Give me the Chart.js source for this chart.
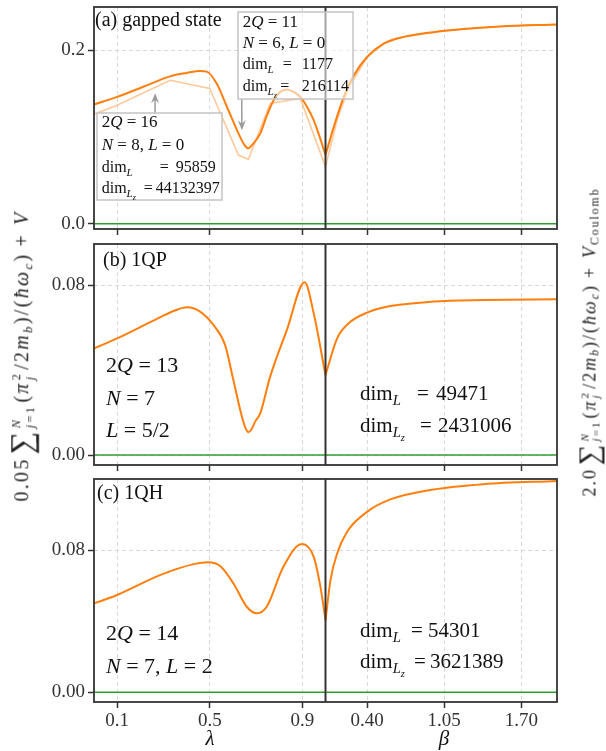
<!DOCTYPE html>
<html>
<head>
<meta charset="utf-8">
<script src="https://cdn.jsdelivr.net/npm/chart.js@4.4.1/dist/chart.umd.min.js"></script>
<style>
  html, body { margin: 0; padding: 0; background: #fff; }
  #wrap { position: relative; width: 606px; height: 751px; overflow: hidden; }
  canvas { position: absolute; left: 0; }
  .ylab {
    position: absolute;
    font-family: 'Liberation Serif', serif;
    color: #222;
    white-space: nowrap;
    transform: translate(-50%, -50%) rotate(-90deg);
    line-height: 1;
  }
  .lim { display: inline-flex; flex-direction: column; font-size: 0.62em; line-height: 1.05; vertical-align: 0.62em; margin: 0 2px 0 1px; }
  .big { font-size: 1.6em; line-height: 0.8; vertical-align: -0.12em; margin-left: 3px; }
  .op { margin: 0 8px 0 6px; }
  .ylab sub { font-size: 0.65em; vertical-align: -0.3em; line-height: 0; }
</style>
</head>
<body>
<div id="wrap">
  <canvas id="panelA" width="606" height="240" style="top:0px"></canvas>
  <canvas id="panelB" width="606" height="232" style="top:240px"></canvas>
  <canvas id="panelC" width="606" height="279" style="top:472px"></canvas>
  <div class="ylab" id="ylabLeft" style="left:23px; top:356px; font-size:20px; letter-spacing:2.3px">0.05<span class="big">∑</span><span class="lim"><i>N</i><span><i>j</i>=1</span></span>(<i>π</i><span class="lim"><span>2</span><i>j</i></span>/2<i>m</i><sub><i>b</i></sub>)/(<i>ħω</i><sub><i>c</i></sub>)<span class="op">+</span><i>V</i></div>
  <div class="ylab" id="ylabRight" style="left:590px; top:342px; font-size:18px; letter-spacing:2px">2.0<span class="big">∑</span><span class="lim"><i>N</i><span><i>j</i>=1</span></span>(<i>π</i><span class="lim"><span>2</span><i>j</i></span>/2<i>m</i><sub><i>b</i></sub>)/(<i>ħω</i><sub><i>c</i></sub>)<span class="op">+</span><i>V</i><sub>Coulomb</sub></div>
</div>
<script>
// x axis: left half is lambda (0..1), right half is beta (0.05..2.0)
const betaMin = 0.05;
const betaMax = 2.0;
const xTickLambda = [0.1, 0.5, 0.9];
const xTickBeta = [0.40, 1.05, 1.70];
const xTickLabels = ['0.1', '0.5', '0.9', '0.40', '1.05', '1.70'];

// (a) gapped state
const lambdaA = [0, 0.1, 0.213, 0.329, 0.401, 0.458, 0.487, 0.53, 0.574, 0.631, 0.65, 0.665, 0.685, 0.718, 0.747, 0.776, 0.804, 0.833, 0.862, 0.891, 0.92, 0.949, 0.977, 1.0];
const energyA = [0.1376, 0.1463, 0.158, 0.170, 0.174, 0.1762, 0.1755, 0.1617, 0.135, 0.1003, 0.091, 0.087, 0.0915, 0.104, 0.125, 0.1425, 0.152, 0.1548, 0.152, 0.1463, 0.135, 0.1195, 0.0985, 0.0793];
const betaA = [0.05, 0.12, 0.204, 0.288, 0.40, 0.54, 0.68, 0.96, 1.24, 1.52, 2.0];
const energyBetaA = [0.0793, 0.1118, 0.1463, 0.171, 0.1923, 0.2077, 0.2146, 0.221, 0.2249, 0.2276, 0.2299];
// smaller system (2Q = 16), faded
const lambdaA16 = [0, 0.1, 0.329, 0.5, 0.624, 0.667, 0.761, 0.891, 1.0];
const energyA16 = [0.1264, 0.1368, 0.1655, 0.156, 0.0793, 0.0743, 0.1387, 0.1445, 0.0659];
const betaA16 = [0.05, 0.15, 0.25, 0.40, 0.54, 0.68, 0.96, 1.24, 1.52, 2.0];
const energyBetaA16 = [0.0659, 0.121, 0.158, 0.1923, 0.2077, 0.2146, 0.221, 0.2249, 0.2276, 0.2299];

// (b) 1QP
const lambdaB = [0, 0.1, 0.2, 0.285, 0.35, 0.401, 0.458, 0.516, 0.566, 0.602, 0.639, 0.655, 0.667, 0.68, 0.696, 0.718, 0.761, 0.833, 0.91, 0.949, 1.0];
const energyB = [0.0502, 0.0549, 0.0602, 0.0648, 0.068, 0.0695, 0.0675, 0.0612, 0.0518, 0.0353, 0.018, 0.0125, 0.0107, 0.012, 0.0157, 0.0196, 0.0369, 0.0588, 0.0813, 0.0667, 0.0376];
const betaB = [0.05, 0.148, 0.245, 0.40, 0.596, 0.96, 1.38, 2.0];
const energyBetaB = [0.0376, 0.0549, 0.062, 0.067, 0.0701, 0.0722, 0.0729, 0.0733];

// (c) 1QH
const lambdaC = [0, 0.1, 0.285, 0.43, 0.494, 0.545, 0.602, 0.66, 0.703, 0.746, 0.818, 0.898, 0.949, 0.978, 1.0];
const energyC = [0.05, 0.0547, 0.0659, 0.0721, 0.0732, 0.071, 0.0613, 0.0481, 0.0444, 0.0481, 0.0706, 0.0834, 0.0762, 0.0594, 0.0406];
const betaC = [0.05, 0.092, 0.148, 0.232, 0.40, 0.596, 0.96, 1.38, 2.0];
const energyBetaC = [0.0406, 0.0631, 0.0781, 0.0903, 0.1015, 0.1085, 0.1141, 0.1171, 0.1189];

const colors = {
  orange: '#ff7f0e',
  faded: 'rgba(255, 127, 14, 0.42)',
  green: '#2ca02c',
  frame: '#333333',
  grid: '#d9d9d9',
  text: '#111111'
};
const serif = "'Liberation Serif', serif";

// map lambda / beta onto the shared x coordinate
function fromLambda(l) { return l; }
function fromBeta(b) { return 1 + (b - betaMin) / (betaMax - betaMin); }

function toPoints(xs, ys, mapX) {
  return xs.map((v, i) => ({ x: mapX(v), y: ys[i] }));
}

const xTickPos = xTickLambda.map(fromLambda).concat(xTickBeta.map(fromBeta));

function curve(xs, ys, mapX, color, width, smooth) {
  return {
    data: toPoints(xs, ys, mapX),
    borderColor: color,
    borderWidth: width,
    pointRadius: 0,
    fill: false,
    cubicInterpolationMode: smooth ? 'monotone' : 'default',
    tension: 0
  };
}

function zeroLine() {
  return {
    data: [{ x: 0, y: 0 }, { x: 2, y: 0 }],
    borderColor: colors.green,
    borderWidth: 1.6,
    pointRadius: 0
  };
}

// rich text: parts are [text, style]; style 'i' italic, '_' subscript, '__' second level, 'tab' jump
function drawMath(ctx, x, y, parts, size) {
  const x0 = x;
  ctx.fillStyle = colors.text;
  ctx.textAlign = 'left';
  ctx.textBaseline = 'alphabetic';
  parts.forEach(p => {
    const txt = p[0], st = p[1] || '';
    if (st === 'tab') { x = x0 + txt; return; }
    let fs = size, dy = 0;
    if (st.includes('__')) { fs = size * 0.5; dy = size * 0.42; }
    else if (st.includes('_')) { fs = size * 0.7; dy = size * 0.22; }
    ctx.font = (st.includes('i') ? 'italic ' : '') + fs + 'px ' + serif;
    ctx.fillText(txt, x, y + dy);
    x += ctx.measureText(txt).width;
  });
}

function dimLines(ctx, x, y1, y2, valL, valLz, tabs, size) {
  drawMath(ctx, x, y1, [['dim'], ['L', 'i_'], [tabs[0], 'tab'], ['='], [tabs[1], 'tab'], [valL]], size);
  drawMath(ctx, x, y2, [['dim'], ['L', 'i_'], ['z', 'i__'], [tabs[2], 'tab'], ['='], [tabs[3], 'tab'], [valLz]], size);
}

function drawArrow(ctx, x1, y1, x2, y2) {
  const ang = Math.atan2(y2 - y1, x2 - x1);
  const len = 10, half = 4;
  ctx.save();
  ctx.strokeStyle = '#9a9a9a';
  ctx.fillStyle = '#9a9a9a';
  ctx.lineWidth = 1.5;
  ctx.beginPath();
  ctx.moveTo(x1, y1);
  ctx.lineTo(x2 - Math.cos(ang) * len * 0.6, y2 - Math.sin(ang) * len * 0.6);
  ctx.stroke();
  ctx.translate(x2, y2);
  ctx.rotate(ang);
  ctx.beginPath();
  ctx.moveTo(0, 0);
  ctx.lineTo(-len, -half);
  ctx.lineTo(-len * 0.65, 0);
  ctx.lineTo(-len, half);
  ctx.closePath();
  ctx.fill();
  ctx.restore();
}

function drawBox(ctx, x, y, w, h) {
  ctx.save();
  ctx.fillStyle = 'rgba(255, 255, 255, 0.55)';
  ctx.fillRect(x, y, w, h);
  ctx.strokeStyle = '#c4c4c4';
  ctx.lineWidth = 1.5;
  ctx.strokeRect(x, y, w, h);
  ctx.restore();
}

// frame, black divider and annotations (one plugin per panel)
function panelPlugin(draw) {
  return {
    id: 'panelDecor',
    afterDatasetsDraw(chart) {
      const { ctx, chartArea, scales } = chart;
      const xm = scales.x.getPixelForValue(1);
      ctx.save();
      ctx.strokeStyle = colors.frame;
      ctx.lineWidth = 2;
      ctx.beginPath();
      ctx.moveTo(xm, chartArea.top);
      ctx.lineTo(xm, chartArea.bottom);
      ctx.stroke();
      ctx.lineWidth = 1.8;
      ctx.strokeRect(chartArea.left, chartArea.top, chartArea.right - chartArea.left, chartArea.bottom - chartArea.top);
      ctx.restore();
      if (draw) draw(ctx, chart);
    }
  };
}

function makePanel(id, opts) {
  const ctx = document.getElementById(id).getContext('2d');
  return new Chart(ctx, {
    type: 'line',
    data: { datasets: opts.datasets },
    plugins: [panelPlugin(opts.draw)],
    options: {
      responsive: false,
      animation: false,
      layout: { padding: { top: opts.top, right: 49, left: 0, bottom: 0 } },
      plugins: {
        legend: { display: false },
        tooltip: { enabled: false }
      },
      scales: {
        x: {
          type: 'linear',
          min: 0,
          max: 2,
          afterBuildTicks: s => { s.ticks = xTickPos.map(v => ({ value: v })); },
          afterFit: s => { s.height = opts.xHeight; s.paddingLeft = 0; s.paddingRight = 0; },
          ticks: {
            display: opts.showX,
            autoSkip: false,
            maxRotation: 0,
            padding: 2,
            color: '#333',
            font: { family: serif, size: 19 },
            callback: (v, i) => xTickLabels[i]
          },
          grid: { color: colors.grid, lineWidth: 1, tickLength: 6, tickColor: colors.frame, tickWidth: 1.5 },
          border: { display: false, dash: [4, 3] }
        },
        y: {
          type: 'linear',
          min: opts.yMin,
          max: opts.yMax,
          afterBuildTicks: s => { s.ticks = opts.yTicks.map(v => ({ value: v })); },
          afterFit: s => { s.width = 94; s.paddingTop = 0; s.paddingBottom = 0; },
          ticks: {
            padding: 3,
            color: '#333',
            font: { family: serif, size: 19 },
            callback: v => v.toFixed(opts.yDigits)
          },
          grid: { color: colors.grid, lineWidth: 1, tickLength: 6, tickColor: colors.frame, tickWidth: 1.5 },
          border: { display: false, dash: [4, 3] }
        }
      }
    }
  });
}

function initPanelA() {
  return makePanel('panelA', {
    top: 7, xHeight: 11, showX: false,
    yMin: -0.006, yMax: 0.25, yTicks: [0, 0.2], yDigits: 1,
    datasets: [
      zeroLine(),
      curve(lambdaA16, energyA16, fromLambda, colors.faded, 1.6, false),
      curve(betaA16, energyBetaA16, fromBeta, colors.faded, 1.6, false),
      curve(lambdaA, energyA, fromLambda, colors.orange, 2, true),
      curve(betaA, energyBetaA, fromBeta, colors.orange, 2, true)
    ],
    draw: (ctx, chart) => {
      const sx = chart.scales.x, sy = chart.scales.y;
      ctx.save();
      ctx.font = '20px ' + serif;
      ctx.fillStyle = colors.text;
      ctx.fillText('(a) gapped state', 95, 26);
      // arrows point at the curves
      drawArrow(ctx, 155, 113, sx.getPixelForValue(0.264), sy.getPixelForValue(0.1506));
      drawArrow(ctx, 241.7, 99, sx.getPixelForValue(0.639), sy.getPixelForValue(0.108));
      drawBox(ctx, 97, 113, 125, 87);
      drawBox(ctx, 238, 12, 115, 87);
      const fs = 17;
      drawMath(ctx, 101.7, 127, [['2'], ['Q', 'i'], [' = 16']], fs);
      drawMath(ctx, 101.7, 150, [['N', 'i'], [' = 8, '], ['L', 'i'], [' = 0']], fs);
      dimLines(ctx, 101.7, 172, 193, '95859', '44132397', [58, 74, 42, 54], 16);
      drawMath(ctx, 242.7, 27, [['2'], ['Q', 'i'], [' = 11']], fs);
      drawMath(ctx, 242.7, 48, [['N', 'i'], [' = 6, '], ['L', 'i'], [' = 0']], fs);
      dimLines(ctx, 242.7, 69, 91, '1177', '216114', [40, 59, 37.5, 59], 16);
      ctx.restore();
    }
  });
}

function initPanelB() {
  return makePanel('panelB', {
    top: 4, xHeight: 7, showX: false,
    yMin: -0.0047, yMax: 0.0993, yTicks: [0, 0.08], yDigits: 2,
    datasets: [
      zeroLine(),
      curve(lambdaB, energyB, fromLambda, colors.orange, 2, true),
      curve(betaB, energyBetaB, fromBeta, colors.orange, 2, true)
    ],
    draw: ctx => {
      ctx.save();
      ctx.font = '20px ' + serif;
      ctx.fillStyle = colors.text;
      ctx.fillText('(b) 1QP', 103, 26);
      const fs = 22;
      drawMath(ctx, 106, 132, [['2'], ['Q', 'i'], [' = 13']], fs);
      drawMath(ctx, 106, 165, [['N', 'i'], [' = 7']], fs);
      drawMath(ctx, 106, 197, [['L', 'i'], [' = 5/2']], fs);
      dimLines(ctx, 360, 160, 192, '49471', '2431006', [57, 76, 60, 78], 21);
      ctx.restore();
    }
  });
}

function initPanelC() {
  return makePanel('panelC', {
    top: 7, xHeight: 49, showX: true,
    yMin: -0.0055, yMax: 0.12, yTicks: [0, 0.08], yDigits: 2,
    datasets: [
      zeroLine(),
      curve(lambdaC, energyC, fromLambda, colors.orange, 2, true),
      curve(betaC, energyBetaC, fromBeta, colors.orange, 2, true)
    ],
    draw: ctx => {
      ctx.save();
      ctx.font = '20px ' + serif;
      ctx.fillStyle = colors.text;
      ctx.fillText('(c) 1QH', 97, 27);
      const fs = 22;
      drawMath(ctx, 106, 168, [['2'], ['Q', 'i'], [' = 14']], fs);
      drawMath(ctx, 106, 201, [['N', 'i'], [' = 7, '], ['L', 'i'], [' = 2']], fs);
      dimLines(ctx, 360, 165, 196, '54301', '3621389', [51, 68, 54, 70], 21);
      // axis titles
      ctx.font = 'italic 21px ' + serif;
      ctx.textAlign = 'center';
      ctx.fillText('λ', 210, 273);
      ctx.fillText('β', 444, 273);
      ctx.restore();
    }
  });
}

let chartA, chartB, chartC;
chartA = initPanelA();
chartB = initPanelB();
chartC = initPanelC();
</script>
</body>
</html>
